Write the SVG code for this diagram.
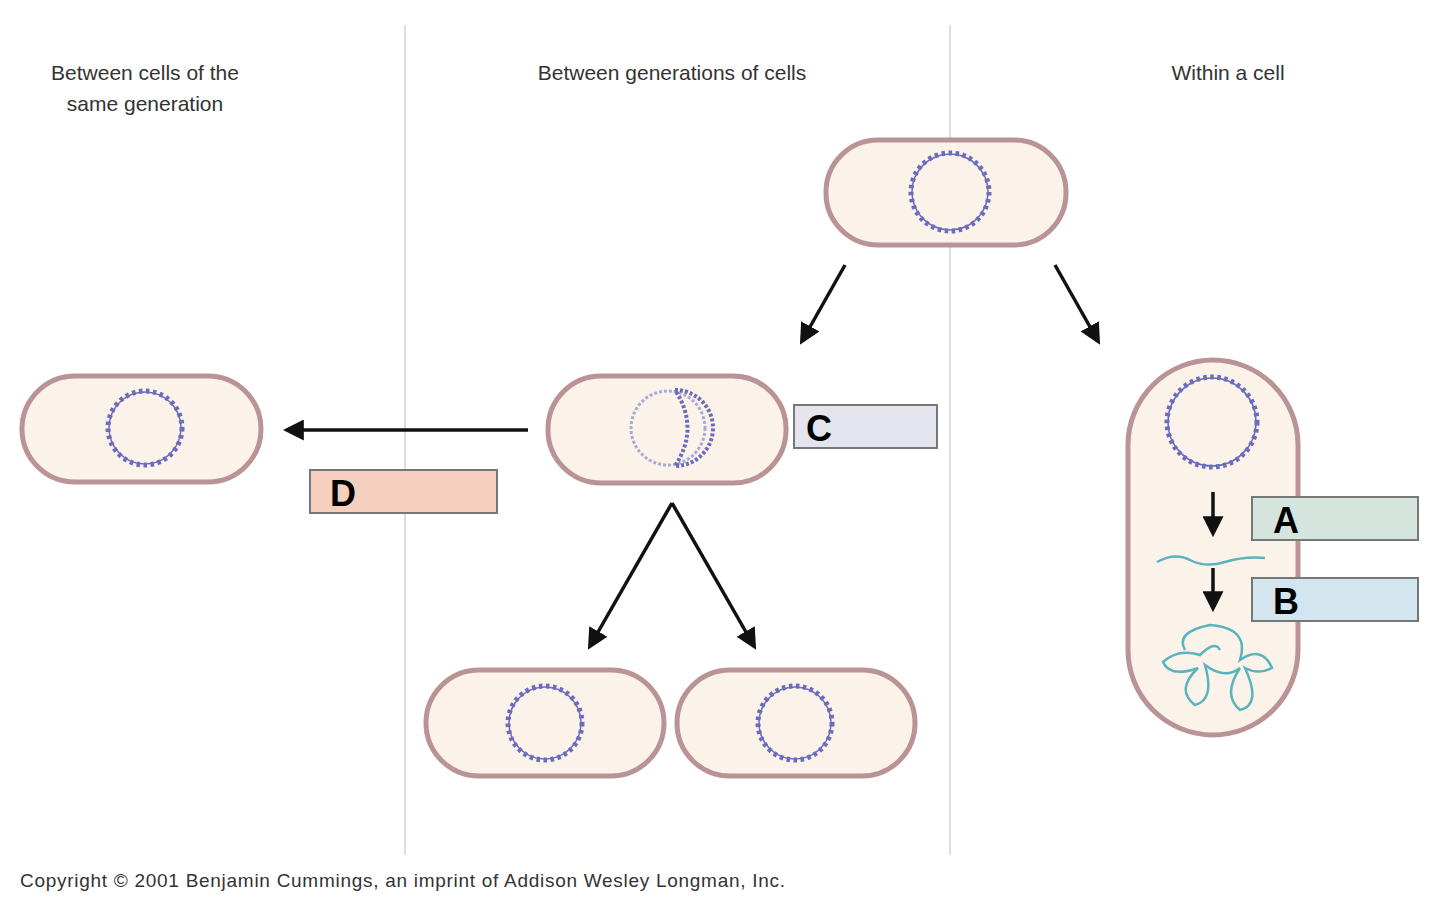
<svg xmlns="http://www.w3.org/2000/svg" width="1440" height="907" viewBox="0 0 1440 907">
<defs>
<style>
.cell{fill:#fbf2ea;stroke:#b99395;stroke-width:5}
.dna{fill:none;stroke:#6c6cbc;stroke-width:1.5}
.dnaw{fill:none;stroke:#6c6cbc;stroke-width:5;stroke-dasharray:3.5 3.5}
.lbl{stroke:#777;stroke-width:2}
.big{font-family:"Liberation Sans",Arial,sans-serif;font-weight:900;font-size:36px;fill:#000}
.t{font-family:"Liberation Sans",Arial,sans-serif;font-size:21px;fill:#333}
.conn line{stroke:#111;stroke-width:3.5;marker-end:url(#ah)}
.rna{fill:none;stroke:#5bb3bd;stroke-width:2.5}
</style>
<marker id="ah" viewBox="0 0 10 10" refX="8" refY="5" markerWidth="6" markerHeight="6" orient="auto"><path d="M0,0 L10,5 L0,10 z" fill="#111"/></marker>
</defs>
<rect width="1440" height="907" fill="#fff"/>
<line x1="405" y1="25" x2="405" y2="855" stroke="#ddd" stroke-width="2"/>
<line x1="950" y1="25" x2="950" y2="855" stroke="#ddd" stroke-width="2"/>
<text class="t" x="145" y="80" text-anchor="middle">Between cells of the</text>
<text class="t" x="145" y="111" text-anchor="middle">same generation</text>
<text class="t" x="672" y="80" text-anchor="middle">Between generations of cells</text>
<text class="t" x="1228" y="80" text-anchor="middle">Within a cell</text>
<text class="t" x="20" y="887" style="font-size:19px" textLength="765">Copyright © 2001 Benjamin Cummings, an imprint of Addison Wesley Longman, Inc.</text>

<g id="top-cell"><rect class="cell" x="826" y="140" width="240" height="105" rx="52"/><circle class="dna" cx="950" cy="192" r="38"/><circle class="dnaw" cx="950" cy="192" r="39"/></g>
<g id="mid-cell"><rect class="cell" x="548" y="376" width="238" height="107" rx="53"/>
<circle cx="668" cy="428" r="37" fill="none" stroke="#a9a9d6" stroke-width="3" stroke-dasharray="3 2"/>
<path d="M675,390 A38,38 0 1 1 675,466 Q700,428 675,390" fill="none" stroke="#6c6cbc" stroke-width="4" stroke-dasharray="3 2"/></g>
<g id="left-cell"><rect class="cell" x="22" y="376" width="239" height="106" rx="53"/><circle class="dna" cx="145" cy="428" r="36"/><circle class="dnaw" cx="145" cy="428" r="37"/></g>
<g id="bottom-left-cell"><rect class="cell" x="426" y="670" width="238" height="106" rx="53"/><circle class="dna" cx="545" cy="723" r="36"/><circle class="dnaw" cx="545" cy="723" r="37"/></g>
<g id="bottom-right-cell"><rect class="cell" x="677" y="670" width="238" height="106" rx="53"/><circle class="dna" cx="795" cy="723" r="36"/><circle class="dnaw" cx="795" cy="723" r="37"/></g>
<g id="tall-cell"><rect class="cell" x="1128" y="360" width="170" height="375" rx="85"/><circle class="dna" cx="1212" cy="422" r="44"/><circle class="dnaw" cx="1212" cy="422" r="45"/>
<path class="rna" d="M1157,562 Q1175,552 1190,560 T1225,562 T1265,558"/>
<path class="rna" d="M1185,650 Q1175,632 1210,625 Q1250,628 1240,660 Q1262,645 1272,668 Q1258,675 1245,668 Q1262,705 1240,710 Q1222,695 1240,668 Q1225,680 1205,665 Q1215,700 1195,705 Q1175,690 1198,668 Q1170,678 1163,662 Q1178,648 1200,655 Q1215,640 1220,650"/></g>
<g id="label-A"><rect class="lbl" x="1252" y="497" width="166" height="43" fill="#d5e4dc"/><text class="big" x="1273" y="533">A</text></g>
<g id="label-B"><rect class="lbl" x="1252" y="578" width="166" height="43" fill="#d3e6ef"/><text class="big" x="1273" y="614">B</text></g>
<g id="label-C"><rect class="lbl" x="794" y="405" width="143" height="43" fill="#e4e4ee"/><text class="big" x="806" y="441">C</text></g>
<g id="label-D"><rect class="lbl" x="310" y="470" width="187" height="43" fill="#f6d0bf"/><text class="big" x="330" y="506">D</text></g>
<g class="conn">
<line x1="845" y1="265" x2="802" y2="341"/>
<line x1="1055" y1="265" x2="1098" y2="341"/>
<line x1="528" y1="430" x2="287" y2="430"/>
<line x1="672" y1="503" x2="590" y2="646"/>
<line x1="672" y1="503" x2="754" y2="646"/>
<line x1="1213" y1="492" x2="1213" y2="533"/>
<line x1="1213" y1="568" x2="1213" y2="608"/>
</g>
</svg>
